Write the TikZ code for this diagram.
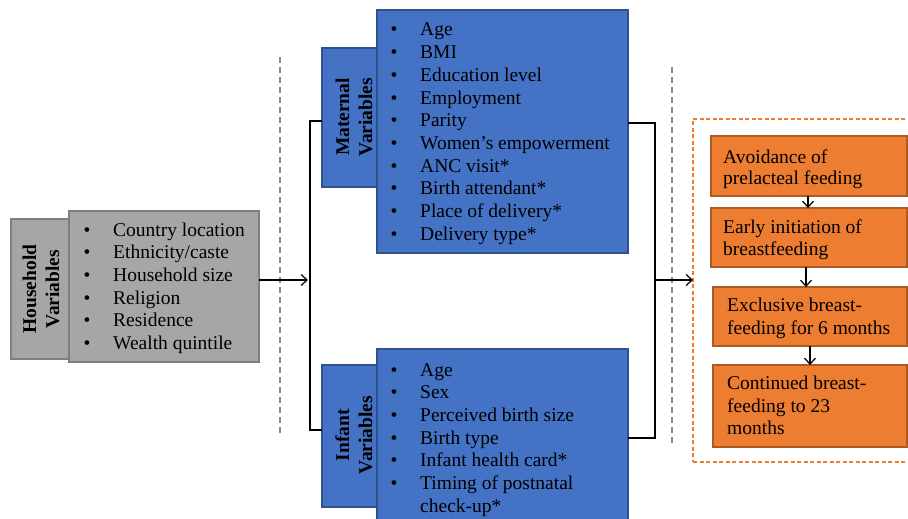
\documentclass[tikz,border=0pt]{standalone}
\usepackage{fontspec}
\setmainfont{Liberation Serif}
\usetikzlibrary{arrows.meta}
\definecolor{hhfill}{HTML}{A6A6A6}
\definecolor{hhdraw}{HTML}{7F7F7F}
\definecolor{bfill}{HTML}{4472C4}
\definecolor{bdraw}{HTML}{2F528F}
\definecolor{ofill}{HTML}{ED7D31}
\definecolor{odraw}{HTML}{AE5A21}
\definecolor{sepgray}{HTML}{8C8C8C}
\tikzset{
  boxshape/.style={draw, line width=1.3pt, inner sep=0pt, outer sep=0pt, anchor=north west},
  graybox/.style={boxshape, fill=hhfill, draw=hhdraw},
  bluebox/.style={boxshape, fill=bfill, draw=bdraw},
  orangebox/.style={boxshape, fill=ofill, draw=odraw},
  itemtext/.style={anchor=base west, inner sep=0pt},
  bullettext/.style={anchor=base, inner sep=0pt},
  labeltext/.style={rotate=90, align=center, inner sep=0pt, font=\fontsize{19.5}{23}\selectfont\bfseries},
  conn/.style={line width=1.4pt, black},
  arr/.style={line width=1.2pt, black, -{Straight Barb[length=6pt,width=11pt,line width=1.2pt]}},
  sepline/.style={sepgray, line width=1.3pt, dash pattern=on 6pt off 4pt},
}
\begin{document}
\begin{tikzpicture}[x=1pt,y=-1pt, font=\fontsize{19.5}{22.8}\selectfont]
\useasboundingbox (0,0) rectangle (908,519);

% separators
\coordinate (s1t) at (280,57);
\coordinate (s1b) at (280,435);
\coordinate (s2t) at (672,67);
\coordinate (s2b) at (672,443);
\draw[sepline] (s1t) -- (s1b);
\draw[sepline] (s2t) -- (s2b);

% Household
\node[graybox, minimum width=64, minimum height=140] (hhlab) at (11,219) {};
\node[graybox, minimum width=190, minimum height=151] (hhbox) at (69,211) {};
\node[labeltext] (hhtxt) at (41,289) {Household\\Variables};
\foreach \t [count=\i] in {Country location, Ethnicity/caste, Household size, Religion, Residence, Wealth quintile}{
  \node[bullettext] (hb\i) at (87,{236+22.7*(\i-1)}) {•};
  \node[itemtext] (ht\i) at (113,{236+22.7*(\i-1)}) {\t};
}

% Maternal
\node[bluebox, minimum width=63, minimum height=139] (mlab) at (322,48) {};
\node[bluebox, minimum width=251, minimum height=243] (mbox) at (377,10) {};
\node[labeltext] (mtxt) at (354,117) {Maternal\\Variables};
\foreach \t [count=\i] in {Age, BMI, Education level, Employment, Parity, Women’s empowerment, ANC visit*, Birth attendant*, Place of delivery*, Delivery type*}{
  \node[bullettext] (mb\i) at (394,{36+22.7*(\i-1)}) {•};
  \node[itemtext] (mt\i) at (420,{36+22.7*(\i-1)}) {\t};
}

% Infant
\node[bluebox, minimum width=63, minimum height=142] (ilab) at (322,365) {};
\node[bluebox, minimum width=251, minimum height=190] (ibox) at (377,349) {};
\node[labeltext] (itxt) at (354,435) {Infant\\Variables};
\foreach \t [count=\i] in {Age, Sex, Perceived birth size, Birth type, Infant health card*, Timing of postnatal}{
  \node[bullettext] (ib\i) at (394,{376+22.7*(\i-1)}) {•};
  \node[itemtext] (it\i) at (420,{376+22.7*(\i-1)}) {\t};
}
\node[itemtext] (it7) at (420,512.5) {check-up*};

% Outcome panel
\node[boxshape, draw=ofill, line width=1.2pt, dash pattern=on 4pt off 2.5pt, minimum width=240, minimum height=343] (obox) at (693,119) {};
\node[orangebox, minimum width=196, minimum height=60] (o1) at (711,136) {};
\node[orangebox, minimum width=196, minimum height=59] (o2) at (711,208) {};
\node[orangebox, minimum width=194, minimum height=59] (o3) at (713,287) {};
\node[orangebox, minimum width=194, minimum height=82] (o4) at (713,365) {};
\node[itemtext] (o1a) at (723,163) {Avoidance of};
\node[itemtext] (o1b) at (723,184) {prelacteal feeding};
\node[itemtext] (o2a) at (723,233) {Early initiation of};
\node[itemtext] (o2b) at (723,255) {breastfeeding};
\node[itemtext] (o3a) at (727,311) {Exclusive breast-};
\node[itemtext] (o3b) at (727,334) {feeding for 6 months};
\node[itemtext] (o4a) at (727,389) {Continued breast-};
\node[itemtext] (o4b) at (727,412) {feeding to 23};
\node[itemtext] (o4c) at (727,434) {months};

\draw[arr] ([xshift=-1pt]o1.south) -- ([xshift=-1pt]o1.south |- o2.north);
\draw[arr] ([xshift=-3pt]o2.south) -- ([xshift=-3pt]o2.south |- o3.north);
\draw[arr] ([xshift=0pt]o3.south) -- ([xshift=0pt]o3.south |- o4.north);

% connectors
\coordinate (larr) at (308,280);
\coordinate (lt) at (310,121);
\coordinate (lb) at (310,430);
\coordinate (rt) at (655,123);
\coordinate (rb) at (655,438);
\coordinate (rm) at (655,280);
\draw[arr] (hhbox.east |- larr) -- (larr);
\draw[conn] (lt -| mlab.west) -- (lt) -- (lb) -- (lb -| ilab.west);
\draw[conn] (rt -| mbox.east) -- (rt) -- (rb) -- (rb -| ibox.east);
\draw[arr] (rm) -- (rm -| obox.west);
\end{tikzpicture}
\end{document}
